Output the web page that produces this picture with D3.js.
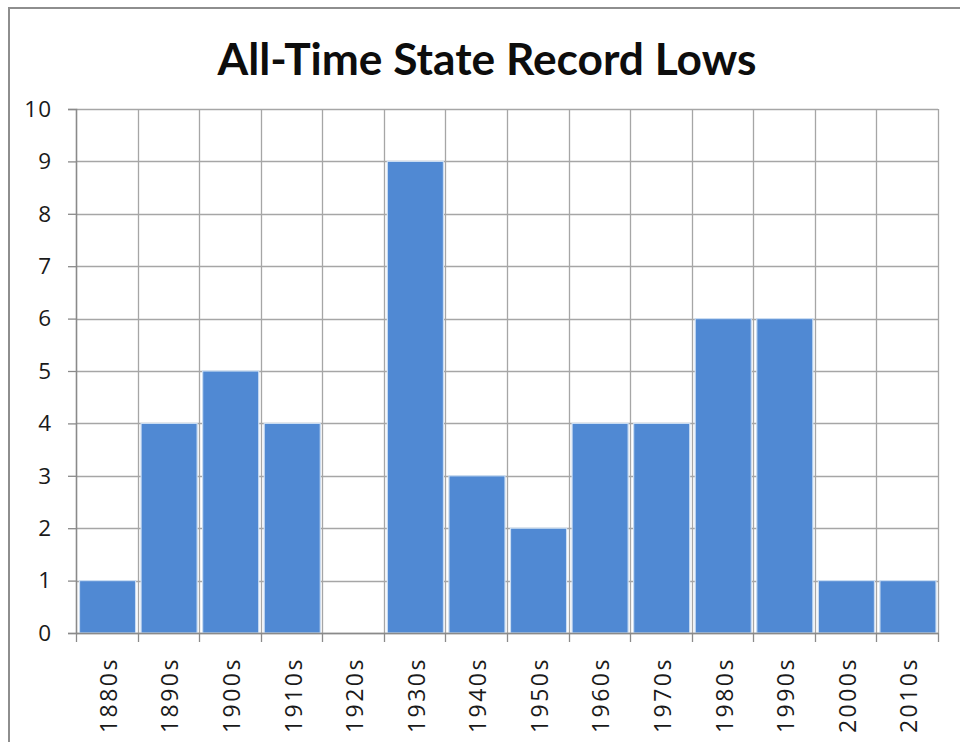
<!DOCTYPE html>
<html><head><meta charset="utf-8">
<script src="https://cdn.jsdelivr.net/npm/d3@7"></script>
<style>
html,body{margin:0;padding:0;background:#fff;}
svg{display:block;}
</style></head>
<body>
<svg id="chart" width="960" height="742"></svg>
<script>
const title = "All-Time State Record Lows";
const categories = ["1880s","1890s","1900s","1910s","1920s","1930s","1940s","1950s","1960s","1970s","1980s","1990s","2000s","2010s"];
const values = [1,4,5,4,0,9,3,2,4,4,6,6,1,1];
const yTicks = [0,1,2,3,4,5,6,7,8,9,10];

const svg = d3.select("#chart");
const W = 960, H = 742;
const m = {left:76, right:22, top:109, bottom:109};
const pw = W - m.left - m.right, ph = H - m.top - m.bottom;

svg.append("rect").attr("x",9).attr("y",8).attr("width",W).attr("height",H)
  .attr("fill","#fff").attr("stroke","#8e8e8e").attr("stroke-width",2);

const x = d3.scaleBand().domain(categories).range([m.left, m.left+pw]).paddingInner(0).paddingOuter(0);
const y = d3.scaleLinear().domain([0,10]).range([m.top+ph, m.top]);

const font = "'Open Sans', sans-serif";

// horizontal gridlines
svg.append("g").selectAll("line").data(yTicks).join("line")
  .attr("x1",m.left).attr("x2",m.left+pw)
  .attr("y1",d=>Math.round(y(d))+0.5).attr("y2",d=>Math.round(y(d))+0.5)
  .attr("stroke","#a6a6a6").attr("stroke-width",1.3);
// vertical gridlines
const bounds = categories.map(c=>x(c)).concat([m.left+pw]);
svg.append("g").selectAll("line").data(bounds.slice(1)).join("line")
  .attr("x1",d=>Math.round(d)+0.5).attr("x2",d=>Math.round(d)+0.5)
  .attr("y1",m.top).attr("y2",m.top+ph)
  .attr("stroke","#a6a6a6").attr("stroke-width",1.3);

// bars
svg.append("g").selectAll("rect").data(values).join("rect")
  .attr("x",(d,i)=>x(categories[i])+3.5)
  .attr("width",x.bandwidth()-5.5)
  .attr("y",d=>y(d))
  .attr("height",d=>y(0)-y(d))
  .attr("fill","#5089d3")
  .attr("stroke","#c9dcf2").attr("stroke-width",1.2);

// y axis
const yAxis = d3.axisLeft(y).tickValues(yTicks).tickSize(8).tickPadding(16).tickFormat(d3.format("d"));
const gy = svg.append("g").attr("transform",`translate(${m.left},0)`).call(yAxis);
gy.select(".domain").attr("stroke","#8a8a8a").attr("stroke-width",1.6);
gy.selectAll(".tick line").attr("stroke","#8a8a8a").attr("stroke-width",1.3);
gy.selectAll("text").attr("font-family",font).attr("font-size",22.5).attr("fill","#1a1a1a").attr("letter-spacing","1px");

// x axis
const xAxis = d3.axisBottom(x).tickSize(0).tickPadding(0);
const gx = svg.append("g").attr("transform",`translate(0,${m.top+ph})`).call(xAxis);
gx.select(".domain").attr("stroke","#8a8a8a").attr("stroke-width",1.6);
gx.selectAll(".tick text")
  .attr("font-family",font).attr("font-size",23).attr("fill","#1a1a1a").attr("letter-spacing","2.5px")
  .attr("text-anchor","end").attr("dy","0.35em")
  .attr("transform","translate(2,24) rotate(-90)");
// x tick marks at category boundaries
gx.append("g").selectAll("line").data(bounds).join("line")
  .attr("x1",d=>Math.round(d)+0.5).attr("x2",d=>Math.round(d)+0.5)
  .attr("y1",0).attr("y2",9).attr("stroke","#8a8a8a").attr("stroke-width",1.3);

// title
const t = svg.append("text").text(title)
  .attr("x",487).attr("y",75).attr("text-anchor","middle")
  .attr("font-family","Lato, sans-serif").attr("font-weight",700).attr("font-size",40).attr("fill","#0d0d0d");
const tw = t.node().getComputedTextLength();
t.attr("font-size", 40*539/tw);
</script>
</body></html>
